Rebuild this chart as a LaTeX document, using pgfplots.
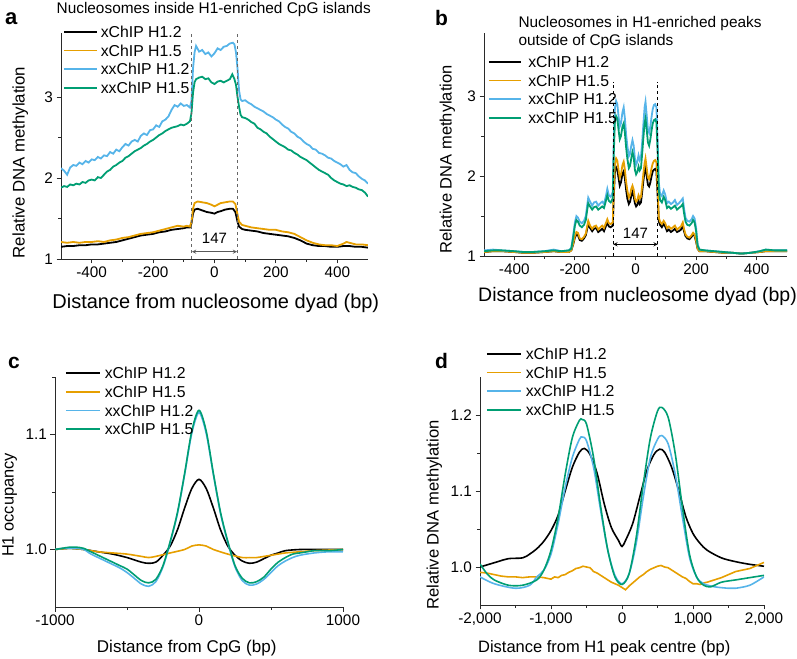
\documentclass[border=0pt]{standalone}
\usepackage{pgfplots}
\pgfplotsset{compat=1.18}
\usepackage{pgfplotstable}
\usepackage{fontspec}
\setmainfont{Liberation Sans}
\definecolor{cOr}{HTML}{E69F00}
\definecolor{cBl}{HTML}{56B4E9}
\definecolor{cGr}{HTML}{009E73}
\definecolor{axc}{HTML}{2A2A2A}

\pgfplotstableread{
x bk or bl gr
-500 1.05 1.05 1.07 1.06
-470 1.06 1.06 1.08 1.07
-440 1.06 1.06 1.07 1.07
-400 1.05 1.05 1.06 1.06
-370 1.04 1.04 1.05 1.05
-340 1.04 1.04 1.05 1.05
-300 1.05 1.05 1.06 1.06
-270 1.06 1.06 1.08 1.07
-245 1.05 1.05 1.06 1.06
-220 1.05 1.05 1.07 1.07
-212 1.07 1.07 1.10 1.09
-206 1.14 1.15 1.25 1.22
-200 1.23 1.25 1.42 1.38
-195 1.27 1.30 1.50 1.45
-190 1.26 1.29 1.48 1.43
-184 1.20 1.22 1.43 1.38
-177 1.19 1.21 1.41 1.36
-170 1.22 1.24 1.44 1.39
-164 1.26 1.28 1.50 1.45
-160 1.33 1.36 1.62 1.56
-156 1.40 1.44 1.73 1.66
-150 1.35 1.38 1.68 1.62
-143 1.31 1.34 1.63 1.58
-137 1.34 1.37 1.67 1.61
-130 1.35 1.38 1.68 1.62
-123 1.30 1.33 1.63 1.58
-116 1.32 1.36 1.66 1.60
-110 1.34 1.38 1.68 1.62
-104 1.31 1.35 1.65 1.60
-97 1.38 1.42 1.76 1.70
-93 1.42 1.46 1.84 1.76
-88 1.37 1.41 1.76 1.69
-82 1.36 1.40 1.74 1.67
-75 1.38 1.42 1.80 1.72
-72 1.72 1.80 2.40 2.25
-68 2.05 2.15 2.85 2.68
-64 2.11 2.22 2.94 2.75
-60 2.08 2.19 2.90 2.72
-56 1.98 2.08 2.75 2.58
-52 1.88 1.98 2.62 2.46
-48 1.92 2.02 2.66 2.50
-43 2.03 2.14 2.80 2.62
-39 2.06 2.18 2.86 2.66
-35 1.97 2.08 2.72 2.54
-31 1.83 1.93 2.52 2.36
-27 1.72 1.82 2.38 2.22
-22 1.65 1.73 2.25 2.10
-18 1.68 1.76 2.28 2.13
-14 1.75 1.84 2.38 2.22
-10 1.80 1.88 2.45 2.30
-6 1.75 1.83 2.38 2.24
-2 1.66 1.72 2.22 2.08
2 1.62 1.68 2.14 2.02
6 1.64 1.70 2.18 2.05
10 1.69 1.76 2.26 2.12
14 1.65 1.72 2.20 2.07
18 1.67 1.74 2.24 2.10
22 1.80 1.88 2.42 2.28
26 1.94 2.03 2.65 2.48
30 2.06 2.16 2.86 2.66
33 2.11 2.22 2.93 2.72
37 2.00 2.10 2.76 2.58
41 1.89 1.98 2.58 2.42
45 1.87 1.96 2.54 2.38
49 1.92 2.02 2.62 2.46
53 2.00 2.10 2.74 2.57
57 2.06 2.16 2.84 2.66
61 2.08 2.19 2.89 2.70
65 2.09 2.20 2.90 2.71
69 2.06 2.17 2.86 2.67
73 1.76 1.85 2.45 2.30
77 1.43 1.48 1.92 1.82
81 1.39 1.43 1.78 1.70
87 1.36 1.40 1.75 1.67
93 1.40 1.44 1.82 1.74
98 1.37 1.41 1.77 1.70
104 1.31 1.35 1.66 1.60
110 1.33 1.37 1.68 1.62
117 1.30 1.34 1.65 1.59
124 1.32 1.36 1.67 1.61
130 1.34 1.38 1.70 1.63
137 1.30 1.33 1.64 1.58
143 1.31 1.35 1.66 1.60
150 1.33 1.37 1.69 1.62
156 1.38 1.42 1.72 1.65
160 1.31 1.34 1.60 1.54
165 1.25 1.27 1.48 1.43
171 1.22 1.24 1.44 1.39
178 1.21 1.23 1.43 1.38
185 1.24 1.26 1.46 1.41
190 1.27 1.29 1.50 1.45
195 1.25 1.27 1.47 1.42
200 1.18 1.19 1.35 1.31
205 1.09 1.09 1.15 1.13
211 1.06 1.06 1.08 1.08
230 1.06 1.06 1.07 1.07
260 1.05 1.05 1.06 1.06
290 1.04 1.04 1.05 1.05
320 1.04 1.04 1.04 1.04
350 1.03 1.03 1.03 1.03
380 1.04 1.04 1.04 1.04
410 1.05 1.05 1.06 1.06
430 1.06 1.06 1.08 1.08
460 1.06 1.06 1.07 1.07
500 1.06 1.06 1.07 1.07
}\tableB

\pgfplotsset{
  panel/.style={
    scale only axis,
    axis lines=left,
    axis line style={-, line width=0.9pt, color=axc},
    enlargelimits=false,
    tick align=outside,
    major tick length=4.5pt,
    minor tick length=3pt,
    every tick/.style={line width=0.9pt, color=axc},
    tick label style={font=\fontsize{15.3}{17}\selectfont, text=black},
    /pgf/number format/assume math mode=true,
    scaled ticks=false,
    legend cell align=left,
    legend style={draw=none, fill=none, inner sep=0pt, outer sep=0pt,
      row sep=0pt, column sep=3pt, anchor=north west,
      font=\fontsize{15.8}{18}\selectfont,
      nodes={inner sep=0pt, text height=14.95pt, text depth=3.65pt}},
    legend image code/.code={\draw[##1, line width=1.8pt] (0pt,0pt) -- (33pt,0pt);},
  },
}

\begin{document}
\begin{tikzpicture}
\useasboundingbox (0,0) rectangle (797pt,658pt);

% ---------------- Panel a ----------------
\begin{axis}[panel, at={(61pt,399pt)}, anchor=south west,
  width=307pt, height=226pt,
  xmin=-500, xmax=500, ymin=1, ymax=3.79,
  xtick={-400,-200,0,200,400}, minor x tick num=1,
  ytick={1,2,3}, minor y tick num=1,
  legend style={at={(0.0065,1.0463)}},
]
\addplot[black, line width=1.8pt] coordinates {
(-500,1.15)(-480,1.16)(-460,1.16)(-440,1.17)(-420,1.17)(-400,1.18)(-380,1.18)(-360,1.19)(-340,1.20)(-320,1.21)
(-300,1.23)(-280,1.25)(-260,1.27)(-240,1.29)(-220,1.30)(-200,1.31)(-180,1.33)(-160,1.34)(-140,1.36)(-120,1.37)
(-100,1.38)(-90,1.39)(-80,1.39)(-75,1.44)(-70,1.56)(-65,1.61)(-55,1.62)(-40,1.60)(-25,1.58)(-10,1.57)(0,1.56)
(10,1.58)(20,1.59)(35,1.61)(50,1.62)(60,1.62)(68,1.58)(75,1.46)(80,1.40)(90,1.37)(100,1.36)(120,1.35)(140,1.34)
(160,1.32)(180,1.31)(200,1.30)(220,1.29)(240,1.28)(260,1.26)(280,1.23)(300,1.19)(320,1.17)(340,1.16)(360,1.16)
(380,1.15)(400,1.15)(420,1.16)(440,1.16)(460,1.15)(480,1.15)(500,1.14)};
\addlegendentry{xChIP H1.2}
\addplot[cOr, line width=1.8pt] coordinates {
(-500,1.21)(-480,1.20)(-460,1.21)(-440,1.20)(-420,1.21)(-400,1.21)(-380,1.22)(-360,1.21)(-340,1.23)(-320,1.24)
(-300,1.26)(-280,1.27)(-260,1.29)(-240,1.31)(-220,1.32)(-200,1.33)(-180,1.35)(-160,1.37)(-140,1.39)(-120,1.41)
(-100,1.40)(-90,1.41)(-80,1.40)(-75,1.46)(-70,1.62)(-65,1.69)(-55,1.71)(-40,1.70)(-25,1.69)(-10,1.67)(0,1.65)
(10,1.67)(20,1.69)(35,1.70)(50,1.71)(60,1.71)(68,1.68)(75,1.55)(80,1.46)(90,1.42)(100,1.41)(120,1.39)(140,1.38)
(160,1.37)(180,1.36)(200,1.36)(220,1.34)(240,1.33)(260,1.31)(280,1.27)(300,1.23)(320,1.20)(340,1.18)(360,1.17)
(380,1.17)(400,1.16)(420,1.19)(430,1.21)(440,1.20)(460,1.18)(480,1.18)(500,1.17)};
\addlegendentry{xChIP H1.5}
\addplot[cBl, line width=1.8pt] coordinates {
(-500,2.12)(-490,2.09)(-480,2.04)(-470,2.13)(-460,2.16)(-450,2.15)(-440,2.19)(-430,2.17)(-420,2.21)(-410,2.19)
(-400,2.23)(-390,2.22)(-380,2.26)(-370,2.24)(-360,2.28)(-350,2.27)(-340,2.32)(-330,2.30)(-320,2.35)(-310,2.33)
(-300,2.38)(-290,2.42)(-280,2.40)(-270,2.45)(-260,2.47)(-250,2.45)(-240,2.52)(-230,2.55)(-220,2.53)(-210,2.59)
(-200,2.60)(-190,2.65)(-180,2.63)(-170,2.70)(-160,2.72)(-150,2.76)(-140,2.84)(-130,2.90)(-120,2.88)(-110,2.92)
(-100,2.89)(-90,2.90)(-80,2.87)(-75,2.95)(-70,3.35)(-65,3.55)(-60,3.63)(-50,3.56)(-40,3.58)(-30,3.53)(-20,3.55)
(-10,3.50)(0,3.54)(10,3.60)(20,3.58)(30,3.62)(40,3.63)(50,3.66)(60,3.67)(65,3.65)(70,3.55)(75,3.35)(80,3.08)
(85,2.97)(90,2.95)(100,2.96)(110,2.93)(120,2.91)(130,2.88)(140,2.86)(150,2.84)(160,2.82)(170,2.79)(180,2.77)
(190,2.75)(200,2.72)(210,2.70)(220,2.66)(230,2.63)(240,2.61)(250,2.57)(260,2.55)(270,2.51)(280,2.49)(290,2.45)
(300,2.42)(310,2.40)(320,2.36)(330,2.35)(340,2.31)(350,2.30)(360,2.28)(370,2.25)(380,2.24)(390,2.21)(400,2.19)
(410,2.17)(420,2.14)(430,2.16)(440,2.10)(450,2.07)(460,2.06)(470,2.02)(480,1.99)(490,1.97)(500,1.93)};
\addlegendentry{xxChIP H1.2}
\addplot[cGr, line width=1.8pt] coordinates {
(-500,1.88)(-490,1.90)(-480,1.89)(-470,1.92)(-460,1.91)(-450,1.93)(-440,1.92)(-430,1.95)(-420,1.94)(-410,1.97)
(-400,1.98)(-390,1.97)(-380,2.01)(-370,2.00)(-360,2.04)(-350,2.08)(-340,2.10)(-330,2.14)(-320,2.16)(-310,2.19)
(-300,2.21)(-290,2.25)(-280,2.27)(-270,2.30)(-260,2.33)(-250,2.35)(-240,2.37)(-230,2.40)(-220,2.42)(-210,2.45)
(-200,2.47)(-190,2.50)(-180,2.53)(-170,2.55)(-160,2.58)(-150,2.60)(-140,2.62)(-130,2.63)(-120,2.64)(-110,2.66)
(-100,2.65)(-90,2.67)(-80,2.70)(-75,2.80)(-70,3.05)(-65,3.18)(-60,3.22)(-50,3.24)(-40,3.25)(-30,3.22)(-20,3.23)
(-10,3.18)(0,3.16)(10,3.19)(20,3.20)(30,3.18)(40,3.20)(50,3.22)(58,3.28)(65,3.22)(70,3.15)(75,3.00)(80,2.88)
(85,2.78)(90,2.75)(100,2.74)(110,2.72)(120,2.69)(130,2.67)(140,2.62)(150,2.60)(160,2.57)(170,2.55)(180,2.51)
(190,2.48)(200,2.45)(210,2.42)(220,2.40)(230,2.38)(240,2.35)(250,2.34)(260,2.31)(270,2.29)(280,2.26)(290,2.24)
(300,2.22)(310,2.19)(320,2.16)(330,2.13)(340,2.10)(350,2.08)(360,2.06)(370,2.04)(380,2.00)(390,1.97)(400,1.95)
(410,1.93)(420,1.92)(430,1.90)(440,1.91)(450,1.89)(460,1.88)(470,1.86)(480,1.85)(490,1.82)(500,1.77)};
\addlegendentry{xxChIP H1.5}
\addplot[gray!80!black, dashed, line width=0.9pt, forget plot] coordinates {(-73.5,1) (-73.5,3.79)};
\addplot[gray!80!black, dashed, line width=0.9pt, forget plot] coordinates {(73.5,1) (73.5,3.79)};
\draw[<->, >=stealth, line width=0.9pt, gray!70!black] (axis cs:-73.5,1.09) -- (axis cs:73.5,1.09);
\node[font=\fontsize{15}{18}\selectfont] at (axis cs:0,1.25) {147};
\end{axis}

% ---------------- Panel b ----------------
\begin{axis}[panel, at={(484pt,402pt)}, anchor=south west,
  width=303pt, height=223pt,
  xmin=-500, xmax=500, ymin=1, ymax=3.79,
  xtick={-400,-200,0,200,400}, minor x tick num=1,
  ytick={1,2,3}, minor y tick num=1,
  legend style={at={(0.0132,0.9117)}, column sep=6.5pt},
  legend image code/.code={\draw[#1, line width=1.8pt] (0pt,0pt) -- (32pt,0pt);},
]
\addplot[black, line width=1.8pt] table[x=x, y=bk] {\tableB};
\addlegendentry{xChIP H1.2}
\addplot[cOr, line width=1.8pt] table[x=x, y=or] {\tableB};
\addlegendentry{xChIP H1.5}
\addplot[cBl, line width=1.8pt] table[x=x, y=bl] {\tableB};
\addlegendentry{xxChIP H1.2}
\addplot[cGr, line width=1.8pt] table[x=x, y=gr] {\tableB};
\addlegendentry{xxChIP H1.5}
\addplot[black, dashed, line width=0.7pt, forget plot] coordinates {(-73.5,1) (-73.5,3.18)};
\addplot[black, dashed, line width=0.7pt, forget plot] coordinates {(73.5,1) (73.5,3.18)};
\draw[<->, >=stealth, line width=0.9pt, black] (axis cs:-73.5,1.146) -- (axis cs:73.5,1.146);
\node[font=\fontsize{15}{18}\selectfont] at (axis cs:0,1.28) {147};
\end{axis}

% ---------------- Panel c ----------------
\begin{axis}[panel, at={(55pt,51pt)}, anchor=south west,
  width=288pt, height=230pt,
  xmin=-1000, xmax=1000, ymin=0.95, ymax=1.15,
  xtick={-1000,0,1000}, minor x tick num=1,
  ytick={1.0,1.1}, minor ytick={1.05,1.15},
  xticklabel style={/pgf/number format/1000 sep={}},
  yticklabel style={/pgf/number format/.cd, fixed, fixed zerofill, precision=1},
  legend style={at={(0.0347,1.0565)}, column sep=4pt},
  legend image code/.code={\draw[#1, line width=1.8pt] (0pt,0pt) -- (34pt,0pt);},
]
\addplot[black, line width=1.6pt, smooth] coordinates {
(-1000,1.000)(-900,1.001)(-800,1.000)(-700,0.998)(-600,0.996)(-500,0.993)(-400,0.989)(-350,0.988)(-300,0.989)
(-250,0.995)(-200,1.003)(-150,1.017)(-100,1.036)(-50,1.053)(0,1.061)(50,1.053)(100,1.036)(150,1.017)(200,1.003)
(250,0.995)(300,0.990)(350,0.988)(400,0.989)(450,0.992)(500,0.995)(550,0.997)(600,0.999)(700,1.000)(800,1.000)(1000,1.000)};
\addlegendentry{xChIP H1.2}
\addplot[cOr, line width=1.6pt, smooth] coordinates {
(-1000,1.000)(-900,1.001)(-800,1.000)(-700,0.998)(-600,0.997)(-500,0.996)(-400,0.994)(-350,0.993)(-300,0.994)
(-200,0.997)(-100,1.000)(-50,1.003)(0,1.004)(50,1.003)(100,1.000)(200,0.996)(300,0.993)(350,0.993)(400,0.993)
(500,0.995)(600,0.997)(700,0.998)(800,0.999)(1000,1.000)};
\addlegendentry{xChIP H1.5}
\addplot[cBl, line width=1.6pt, smooth] coordinates {
(-1000,1.000)(-950,1.001)(-900,1.001)(-850,1.001)(-800,1.000)(-750,0.996)(-700,0.993)(-650,0.990)(-600,0.987)
(-550,0.984)(-500,0.980)(-450,0.975)(-400,0.970)(-350,0.968)(-300,0.972)(-250,0.985)(-200,1.006)(-150,1.031)
(-100,1.065)(-50,1.101)(0,1.119)(50,1.101)(100,1.065)(150,1.031)(200,1.006)(250,0.985)(300,0.973)(350,0.969)
(400,0.970)(450,0.974)(500,0.980)(550,0.986)(600,0.990)(650,0.993)(700,0.995)(800,0.997)(900,0.998)(1000,0.998)};
\addlegendentry{xxChIP H1.2}
\addplot[cGr, line width=1.6pt, smooth] coordinates {
(-1000,1.000)(-950,1.001)(-900,1.002)(-850,1.002)(-800,1.001)(-750,0.998)(-700,0.995)(-650,0.992)(-600,0.989)
(-550,0.986)(-500,0.983)(-450,0.978)(-400,0.973)(-350,0.971)(-300,0.974)(-250,0.986)(-200,1.007)(-150,1.032)
(-100,1.066)(-50,1.103)(0,1.121)(50,1.103)(100,1.066)(150,1.032)(200,1.007)(250,0.986)(300,0.975)(350,0.971)
(400,0.972)(450,0.976)(500,0.983)(550,0.989)(600,0.993)(650,0.996)(700,0.997)(750,0.998)(800,0.999)(900,0.999)(1000,1.000)};
\addlegendentry{xxChIP H1.5}
\end{axis}

% ---------------- Panel d ----------------
\begin{axis}[panel, at={(480pt,53pt)}, anchor=south west,
  width=284pt, height=228pt,
  xmin=-2000, xmax=2000, ymin=0.95, ymax=1.25,
  xtick={-2000,-1000,0,1000,2000}, minor x tick num=1,
  ytick={1.0,1.1,1.2}, minor y tick num=1,
  xticklabel style={/pgf/number format/1000 sep={,}},
  yticklabel style={/pgf/number format/.cd, fixed, fixed zerofill, precision=1},
  legend style={at={(0.0211,1.1417)}, column sep=4pt},
  legend image code/.code={\draw[#1, line width=1.8pt] (0pt,0pt) -- (34pt,0pt);},
]
\addplot[black, line width=1.6pt, smooth] coordinates {
(-2000,1.000)(-1750,1.007)(-1600,1.011)(-1400,1.012)(-1300,1.017)(-1200,1.024)(-1100,1.034)(-1000,1.048)(-900,1.068)
(-800,1.100)(-700,1.131)(-600,1.151)(-530,1.156)(-450,1.148)(-350,1.123)(-250,1.083)(-150,1.052)(-50,1.035)(0,1.027)
(50,1.035)(150,1.057)(250,1.092)(350,1.127)(450,1.148)(530,1.155)(600,1.151)(700,1.131)(800,1.100)(900,1.066)
(1000,1.044)(1100,1.031)(1200,1.022)(1400,1.012)(1600,1.007)(1800,1.0035)(2000,1.001)};
\addlegendentry{xChIP H1.2}
\addplot[cOr, line width=1.6pt] coordinates {
(-2000,0.993)(-1900,0.992)(-1800,0.990)(-1700,0.988)(-1600,0.987)(-1500,0.987)(-1400,0.986)(-1300,0.987)(-1200,0.987)
(-1100,0.986)(-1000,0.984)(-950,0.987)(-900,0.986)(-850,0.989)(-800,0.990)(-750,0.993)(-700,0.995)(-650,0.998)
(-600,0.999)(-550,1.001)(-500,1.000)(-450,0.999)(-400,0.994)(-350,0.992)(-300,0.989)(-250,0.986)(-200,0.983)
(-150,0.980)(-100,0.978)(-50,0.976)(0,0.973)(50,0.970)(100,0.975)(150,0.979)(200,0.983)(250,0.987)(300,0.990)
(350,0.994)(400,0.997)(450,0.999)(500,1.001)(550,1.002)(600,1.000)(650,0.999)(700,0.996)(750,0.993)(800,0.990)
(850,0.987)(900,0.985)(950,0.981)(1000,0.978)(1050,0.978)(1100,0.977)(1150,0.979)(1200,0.980)(1300,0.983)
(1400,0.986)(1500,0.990)(1600,0.994)(1700,0.996)(1800,0.998)(1900,1.002)(2000,1.006)};
\addlegendentry{xChIP H1.5}
\addplot[cBl, line width=1.6pt, smooth] coordinates {
(-2000,0.987)(-1800,0.978)(-1500,0.972)(-1300,0.976)(-1200,0.987)(-1100,0.996)(-1000,1.017)(-900,1.057)(-800,1.105)
(-700,1.144)(-600,1.168)(-560,1.171)(-500,1.166)(-400,1.131)(-300,1.074)(-200,1.022)(-100,0.989)(0,0.978)(100,0.991)
(200,1.031)(300,1.092)(400,1.144)(500,1.168)(560,1.173)(650,1.162)(750,1.122)(850,1.066)(950,1.013)(1050,0.987)
(1150,0.978)(1300,0.974)(1500,0.972)(1600,0.972)(1800,0.976)(2000,0.987)};
\addlegendentry{xxChIP H1.2}
\addplot[cGr, line width=1.6pt, smooth] coordinates {
(-2000,1.004)(-1900,0.991)(-1800,0.983)(-1600,0.976)(-1400,0.976)(-1200,0.983)(-1100,0.996)(-1000,1.022)(-900,1.065)
(-800,1.122)(-700,1.170)(-600,1.193)(-560,1.194)(-500,1.188)(-400,1.144)(-300,1.079)(-200,1.022)(-100,0.987)(0,0.977)
(100,0.991)(200,1.039)(300,1.109)(400,1.170)(500,1.205)(560,1.210)(650,1.197)(750,1.149)(850,1.079)(950,1.017)
(1050,0.987)(1150,0.976)(1250,0.974)(1400,0.980)(1600,0.983)(1800,0.986)(2000,0.989)};
\addlegendentry{xxChIP H1.5}
\end{axis}

% ---------------- Texts ----------------
\node[anchor=base west, inner sep=0pt, font=\fontsize{22}{26}\selectfont\bfseries] at (5pt,633pt) {a};
\node[anchor=base west, inner sep=0pt, font=\fontsize{21}{25}\selectfont\bfseries] at (435pt,632pt) {b};
\node[anchor=base west, inner sep=0pt, font=\fontsize{21}{25}\selectfont\bfseries] at (8pt,289.7pt) {c};
\node[anchor=base west, inner sep=0pt, font=\fontsize{21}{25}\selectfont\bfseries] at (435pt,289.7pt) {d};

\node[anchor=base, inner sep=0pt, font=\fontsize{15.4}{18}\selectfont] at (213.7pt,644.5pt) {Nucleosomes inside H1-enriched CpG islands};
\node[anchor=base west, inner sep=0pt, font=\fontsize{15.4}{18}\selectfont] at (518.3pt,630.5pt) {Nucleosomes in H1-enriched peaks};
\node[anchor=base west, inner sep=0pt, font=\fontsize{15.4}{18}\selectfont] at (518.3pt,612pt) {outside of CpG islands};

\node[anchor=base, inner sep=0pt, font=\fontsize{20}{24}\selectfont] at (215.8pt,349.7pt) {Distance from nucleosome dyad (bp)};
\node[anchor=base, inner sep=0pt, font=\fontsize{19.5}{24}\selectfont] at (637.5pt,356.3pt) {Distance from nucleosome dyad (bp)};
\node[anchor=base, inner sep=0pt, font=\fontsize{17}{20}\selectfont] at (186.7pt,5.3pt) {Distance from CpG (bp)};
\node[anchor=base, inner sep=0pt, font=\fontsize{16.5}{20}\selectfont] at (604.2pt,5.3pt) {Distance from H1 peak centre (bp)};

\node[anchor=base, rotate=90, inner sep=0pt, font=\fontsize{16.8}{20}\selectfont] at (24.5pt,495.5pt) {Relative DNA methylation};
\node[anchor=base, rotate=90, inner sep=0pt, font=\fontsize{16.5}{20}\selectfont] at (451.5pt,498.8pt) {Relative DNA methylation};
\node[anchor=base, rotate=90, inner sep=0pt, font=\fontsize{16.4}{20}\selectfont] at (13.5pt,153pt) {H1 occupancy};
\node[anchor=base, rotate=90, inner sep=0pt, font=\fontsize{16.6}{20}\selectfont] at (438.5pt,143pt) {Relative DNA methylation};
\end{tikzpicture}
\end{document}
